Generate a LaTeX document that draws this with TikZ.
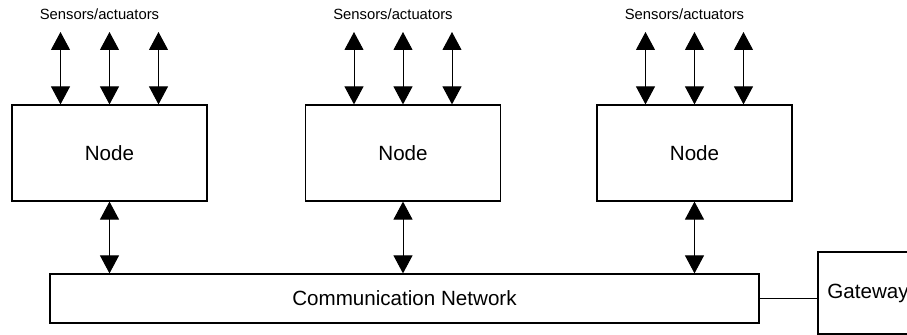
\documentclass[tikz,border=0pt]{standalone}
\usepackage{fontspec}
\setmainfont{Liberation Sans}
\usetikzlibrary{arrows.meta,calc}

\tikzset{
  unitbox/.style={draw, line width=0.6pt, inner sep=0pt, font=\fontsize{10.3}{12}\selectfont},
  link/.style={line width=0.5pt, {Triangle[length=9pt,width=9.5pt]}-{Triangle[length=9pt,width=9.5pt]}},
  sensorlabel/.style={font=\fontsize{7.4}{9}\selectfont}
}

\begin{document}
\begin{tikzpicture}[x=0.5pt,y=-0.5pt]
\clip (0,0) rectangle (907,335);
\foreach \i/\cx in {1/109.5,2/403,3/694.5}{
  \node[unitbox, minimum width=97.5pt, minimum height=48pt] (node\i) at (\cx,153) {Node};
  \node[sensorlabel] (sens\i) at (\cx-10,14) {Sensors/actuators};
  \foreach \j/\dx in {a/-49,b/0,c/49}{
    \coordinate (io\i\j) at (\cx+\dx,32);
    \draw[link] (io\i\j) -- (io\i\j |- node\i.north);
  }
}
\node[unitbox, minimum width=354.5pt, minimum height=24.5pt] (net) at (404.5,298.5) {Communication Network};
\node[unitbox, minimum width=50pt, minimum height=41pt] (gw) at (868,293) {Gateway};
\foreach \i in {1,2,3}
  \draw[link] (node\i.south) -- (node\i.south |- net.north);
\draw[line width=0.6pt] (net.east) -- (net.east -| gw.west);
\end{tikzpicture}
\end{document}
